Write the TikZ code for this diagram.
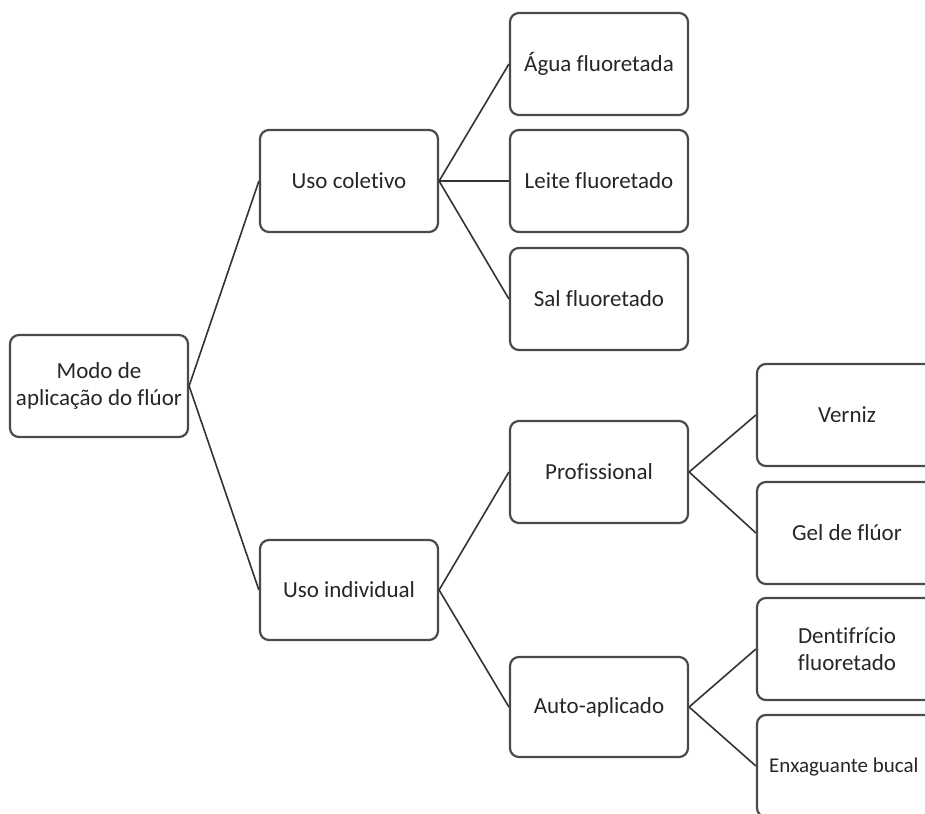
\documentclass[tikz,border=0pt]{standalone}
\usepackage{fontspec}
\setmainfont{Carlito}[Ligatures=NoCommon]
\definecolor{boxline}{HTML}{4A4A4A}
\definecolor{txt}{HTML}{262626}
\begin{document}
\begin{tikzpicture}[x=1pt,y=-1pt,
  box/.style={draw=boxline, line width=2.2pt, rounded corners=9pt, minimum width=178pt, minimum height=102pt, inner sep=2pt, align=center, text=txt, font=\fontsize{23}{27}\selectfont},
  link/.style={draw=black!80, line width=1.6pt}]
\useasboundingbox (0,0) rectangle (925,813);
\clip (0,0) rectangle (925,813);
\node[box] (root) at (99,386) {Modo de\\aplicação do flúor};
\node[box] (col) at (349,181) {Uso coletivo};
\node[box, minimum height=100pt] (ind) at (349,590) {Uso individual};
\node[box] (agua) at (599,64) {Água fluoretada};
\node[box] (leite) at (599,181) {Leite fluoretado};
\node[box] (sal) at (599,299) {Sal fluoretado};
\node[box] (prof) at (599,472) {Profissional};
\node[box, minimum height=100pt] (auto) at (599,707) {Auto-aplicado};
\node[box, minimum width=180pt] (vern) at (847,415) {Verniz};
\node[box, minimum width=180pt] (gel) at (847,533) {Gel de flúor};
\node[box, minimum width=180pt] (dent) at (847,649) {Dentifrício\\fluoretado};
\node[box, minimum width=180pt] (enx) at (847,766) {};
\node[text=txt, font=\fontsize{21}{25}\selectfont, inner sep=0pt, anchor=west] (enxt) at (769,767) {Enxaguante bucal};
\draw[link] (root.east) -- (col.west);
\draw[link] (root.east) -- (ind.west);
\draw[link] (col.east) -- (agua.west);
\draw[link] (col.east) -- (leite.west);
\draw[link] (col.east) -- (sal.west);
\draw[link] (ind.east) -- (prof.west);
\draw[link] (ind.east) -- (auto.west);
\draw[link] (prof.east) -- (vern.west);
\draw[link] (prof.east) -- (gel.west);
\draw[link] (auto.east) -- (dent.west);
\draw[link] (auto.east) -- (enx.west);
\end{tikzpicture}
\end{document}
